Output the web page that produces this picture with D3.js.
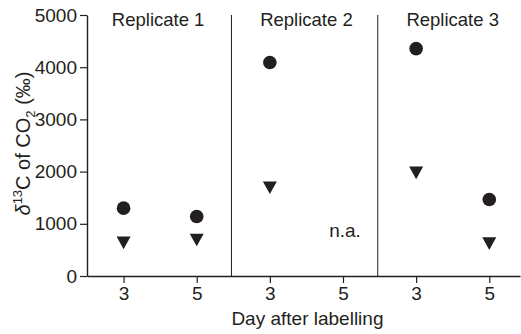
<!DOCTYPE html>
<html>
<head>
<meta charset="utf-8">
<script src="https://cdn.jsdelivr.net/npm/d3@7"></script>
<style>
  body { margin: 0; background: #fff; }
  svg text { font-family: "Liberation Sans", Arial, sans-serif; fill: #231f20; }
</style>
</head>
<body>
<div id="chart"></div>
<script>
// data
const replicates = ['Replicate 1', 'Replicate 2', 'Replicate 3'];
const days = ['3', '5', '3', '5', '3', '5'];
const circleValues = [1300, 1140, 4090, null, 4355, 1465];
const triangleValues = [635, 690, 1690, null, 1975, 620];
const missingLabel = 'n.a.';
const yTicks = [0, 1000, 2000, 3000, 4000, 5000];

const [width, height] = [521, 334];
const ink = '#231f20';

const svg = d3.select('#chart').append('svg')
  .attr('width', width).attr('height', height);

const x = d3.scaleLinear().domain([-0.5, 5.42]).range([87, 520]);
const y = d3.scaleLinear().domain([0, 5000]).range([276, 15]);

// y axis
const yAxis = svg.append('g')
  .attr('transform', `translate(${x(-0.5)},0)`)
  .call(d3.axisLeft(y).tickValues(yTicks).tickFormat(d3.format('d'))
    .tickSize(7).tickSizeOuter(0).tickPadding(3));

// x axis
const xAxis = svg.append('g')
  .attr('transform', `translate(0,${y(0)})`)
  .call(d3.axisBottom(x).tickValues(d3.range(days.length))
    .tickFormat(i => days[i]).tickSize(7).tickSizeOuter(0).tickPadding(4));

[yAxis, xAxis].forEach(ax => {
  ax.select('.domain').attr('stroke', ink).attr('stroke-width', 1.4);
  ax.selectAll('.tick line').attr('stroke', ink).attr('stroke-width', 1.2);
  ax.selectAll('.tick text').attr('fill', ink)
    .style('font-size', '19px').style('font-family', '"Liberation Sans", Arial, sans-serif');
});

// replicate dividers
svg.append('g').selectAll('line').data([1.475, 3.475]).join('line')
  .attr('x1', d => x(d)).attr('x2', d => x(d))
  .attr('y1', y(5000)).attr('y2', y(0))
  .attr('stroke', ink).attr('stroke-width', 1);

// replicate titles
svg.append('g').selectAll('text').data(replicates).join('text')
  .attr('x', (d, i) => x(i * 2 + 0.5) - (i === 0 ? 2 : 0))
  .attr('y', 26)
  .attr('text-anchor', 'middle')
  .style('font-size', '18.5px')
  .text(d => d);

// points
const circles = circleValues.map((v, i) => ({ i, v })).filter(d => d.v !== null);
const triangles = triangleValues.map((v, i) => ({ i, v })).filter(d => d.v !== null);

svg.append('g').selectAll('circle').data(circles).join('circle')
  .attr('cx', d => x(d.i)).attr('cy', d => y(d.v))
  .attr('r', 6.8).attr('fill', ink);

const tri = 'M-7,-6.3L7,-6.3L0,6.3Z';
svg.append('g').selectAll('path').data(triangles).join('path')
  .attr('d', tri)
  .attr('transform', d => `translate(${x(d.i)},${y(d.v)})`)
  .attr('fill', ink);

// missing value label
const missing = circleValues.findIndex(v => v === null);
svg.append('text')
  .attr('x', x(missing) + 2).attr('y', y(750))
  .attr('text-anchor', 'middle')
  .style('font-size', '19px')
  .text(missingLabel);

// axis titles
svg.append('text')
  .attr('x', x(2.5) + 1).attr('y', 325)
  .attr('text-anchor', 'middle')
  .style('font-size', '19px')
  .text('Day after labelling');

// y title built piece by piece (super/subscripts)
const titleParts = [
  { t: 'δ', size: 20, shift: 0, italic: true },
  { t: '13', size: 13, shift: -8 },
  { t: 'C of CO', size: 20, shift: 0 },
  { t: '2', size: 13, shift: 5 },
  { t: ' (‰)', size: 20, shift: 0 }
];
const yTitle = svg.append('g')
  .attr('transform', `translate(30,${(y(0) + y(5000)) / 2 - 2}) rotate(-90)`);
let cursor = 0;
titleParts.forEach(p => {
  const t = yTitle.append('text')
    .attr('x', cursor).attr('y', p.shift)
    .style('font-size', p.size + 'px')
    .style('font-style', p.italic ? 'italic' : 'normal')
    .style('white-space', 'pre')
    .attr('xml:space', 'preserve')
    .text(p.t);
  cursor += t.node().getComputedTextLength();
});
yTitle.selectAll('text').attr('x', function() { return +d3.select(this).attr('x') - cursor / 2; });
</script>
</body>
</html>
